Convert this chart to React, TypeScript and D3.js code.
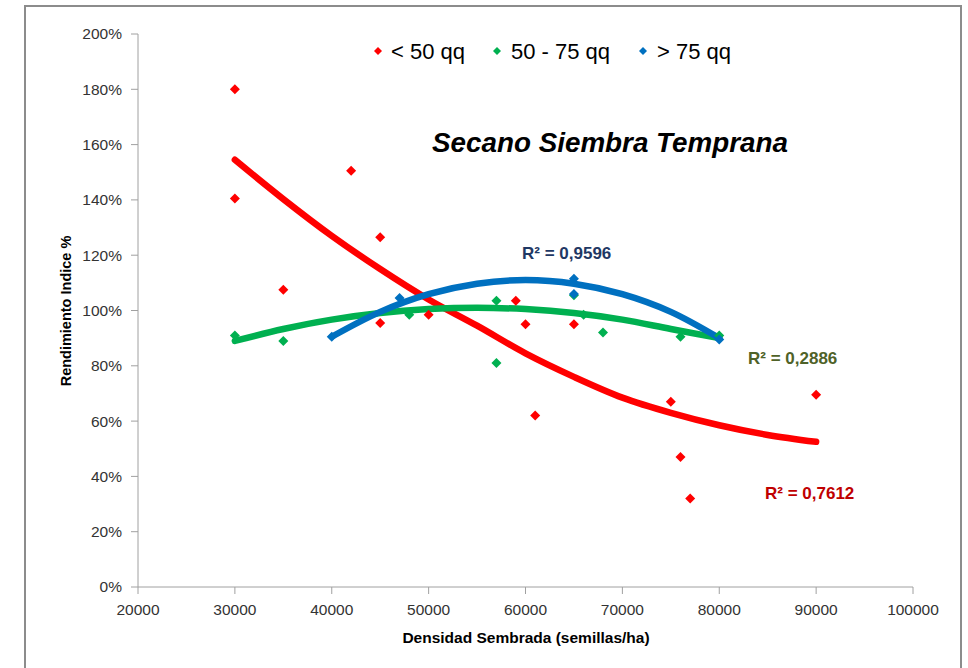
import React from "react";
import * as d3 from "d3";

// Scatter data (x = semillas/ha, y = Rendimiento Indice %)
const redX = [30000, 30000, 35000, 42000, 45000, 45000, 50000, 59000, 60000, 61000, 65000, 75000, 76000, 77000, 90000];
const redY = [180, 140.5, 107.5, 150.5, 126.5, 95.5, 98.5, 103.5, 95, 62, 95, 67, 47, 32, 69.5];

const greenX = [30000, 35000, 48000, 57000, 57000, 65000, 66000, 68000, 76000, 80000];
const greenY = [91, 89, 98.5, 103.5, 81, 105.5, 98.5, 92, 90.5, 91];

const blueX = [40000, 47000, 65000, 65000, 80000];
const blueY = [90.5, 104.5, 111.5, 106, 89.5];

// Trendline values
const redTrendX = [30000, 35000, 40000, 45000, 50000, 55000, 60000, 65000, 70000, 75000, 80000, 85000, 90000];
const redTrendY = [154.5, 140.3, 127, 115, 104, 94.5, 84.5, 76, 68.5, 63, 58.5, 55, 52.5];

const greenTrendX = [30000, 35000, 40000, 45000, 50000, 55000, 60000, 65000, 70000, 75000, 80000];
const greenTrendY = [89, 93.3, 96.7, 99.1, 100.5, 101, 100.5, 99.1, 96.7, 93.3, 90];

const blueTrendX = [40000, 45000, 50000, 55000, 60000, 65000, 70000, 75000, 80000];
const blueTrendY = [90.5, 99.5, 105.9, 109.7, 111, 109.7, 105.9, 99.5, 90];

const xTicks = [20000, 30000, 40000, 50000, 60000, 70000, 80000, 90000, 100000];
const yTicks = [0, 20, 40, 60, 80, 100, 120, 140, 160, 180, 200];

const legendLabels = ["< 50 qq", "50 - 75 qq", "> 75 qq"];
const r2Labels = ["R² = 0,7612", "R² = 0,2886", "R² = 0,9596"];
const title = "Secano Siembra Temprana";
const xTitle = "Densidad Sembrada (semillas/ha)";
const yTitle = "Rendimiento Indice %";

const RED = "#FF0000";
const GREEN = "#00B050";
const BLUE = "#0070C0";
const FONT = "'Liberation Sans', Arial, sans-serif";

const diamond = (cx: number, cy: number, r: number) =>
  `M${cx},${cy - r}L${cx + r},${cy}L${cx},${cy + r}L${cx - r},${cy}Z`;

export default function App() {
  const x = d3.scaleLinear().domain([20000, 100000]).range([138, 913]);
  const y = d3.scaleLinear().domain([0, 200]).range([587, 34]);

  const line = d3
    .line<[number, number]>()
    .x((d) => x(d[0]))
    .y((d) => y(d[1]))
    .curve(d3.curveCatmullRom.alpha(0.5));

  const zip = (a: number[], b: number[]) => a.map((v, i) => [v, b[i]] as [number, number]);

  const series = [
    { xs: redX, ys: redY, tx: redTrendX, ty: redTrendY, color: RED },
    { xs: greenX, ys: greenY, tx: greenTrendX, ty: greenTrendY, color: GREEN },
    { xs: blueX, ys: blueY, tx: blueTrendX, ty: blueTrendY, color: BLUE },
  ];

  const legendPos = [
    { mx: 378, tx: 391 },
    { mx: 497, tx: 511 },
    { mx: 643, tx: 657 },
  ];
  const legendColors = [RED, GREEN, BLUE];

  return (
    <svg
      width={968}
      height={668}
      style={{ position: "absolute", left: 0, top: 0, background: "#fff" }}
      fontFamily={FONT}
    >
      <rect x={0} y={0} width={968} height={668} fill="#fff" />
      {/* outer frame */}
      <path d="M25,700V6H961V700" fill="none" stroke="#8c8c8c" strokeWidth={2} />

      {/* axes */}
      <line x1={x(20000)} x2={x(20000)} y1={y(200)} y2={y(0)} stroke="#a0a0a0" strokeWidth={1} />
      <line x1={x(20000)} x2={x(100000)} y1={y(0)} y2={y(0)} stroke="#a0a0a0" strokeWidth={1} />
      {yTicks.map((t) => (
        <g key={"y" + t}>
          <line x1={x(20000) - 7} x2={x(20000)} y1={y(t)} y2={y(t)} stroke="#a0a0a0" />
          <text x={122} y={y(t)} dy="0.35em" textAnchor="end" fontSize={15.5} fill="#333">
            {t + "%"}
          </text>
        </g>
      ))}
      {xTicks.map((t) => (
        <g key={"x" + t}>
          <line x1={x(t)} x2={x(t)} y1={y(0)} y2={y(0) + 7} stroke="#a0a0a0" />
          <text x={x(t)} y={615} textAnchor="middle" fontSize={15.5} fill="#333">
            {t}
          </text>
        </g>
      ))}

      {/* axis titles */}
      <text x={526} y={643} textAnchor="middle" fontSize={15.5} fontWeight="bold" fill="#000">
        {xTitle}
      </text>
      <text
        transform="translate(71,311) rotate(-90)"
        textAnchor="middle"
        fontSize={14.5}
        fontWeight="bold"
        fill="#000"
      >
        {yTitle}
      </text>

      {/* trendlines */}
      {series.map((s, i) => (
        <path
          key={"t" + i}
          d={line(zip(s.tx, s.ty)) || ""}
          fill="none"
          stroke={s.color}
          strokeWidth={6.5}
          strokeLinecap="round"
        />
      ))}

      {/* points */}
      {series.map((s, i) =>
        s.xs.map((v, j) => (
          <path key={"p" + i + "-" + j} d={diamond(x(v), y(s.ys[j]), 5)} fill={s.color} />
        ))
      )}

      {/* legend */}
      {legendLabels.map((l, i) => (
        <g key={"l" + i}>
          <path d={diamond(legendPos[i].mx, 51, 4)} fill={legendColors[i]} />
          <text x={legendPos[i].tx} y={59} fontSize={22} fill="#000">
            {l}
          </text>
        </g>
      ))}

      {/* title */}
      <text
        x={432}
        y={152}
        fontSize={28}
        fontWeight="bold"
        fontStyle="italic"
        fill="#000"
        textLength={356}
        lengthAdjust="spacingAndGlyphs"
      >
        {title}
      </text>

      {/* R² labels */}
      <text x={765} y={499} fontSize={17} fontWeight="bold" fill="#C00000">
        {r2Labels[0]}
      </text>
      <text x={748} y={364} fontSize={17} fontWeight="bold" fill="#4F6228">
        {r2Labels[1]}
      </text>
      <text x={522} y={259} fontSize={17} fontWeight="bold" fill="#1F3864">
        {r2Labels[2]}
      </text>
    </svg>
  );
}
